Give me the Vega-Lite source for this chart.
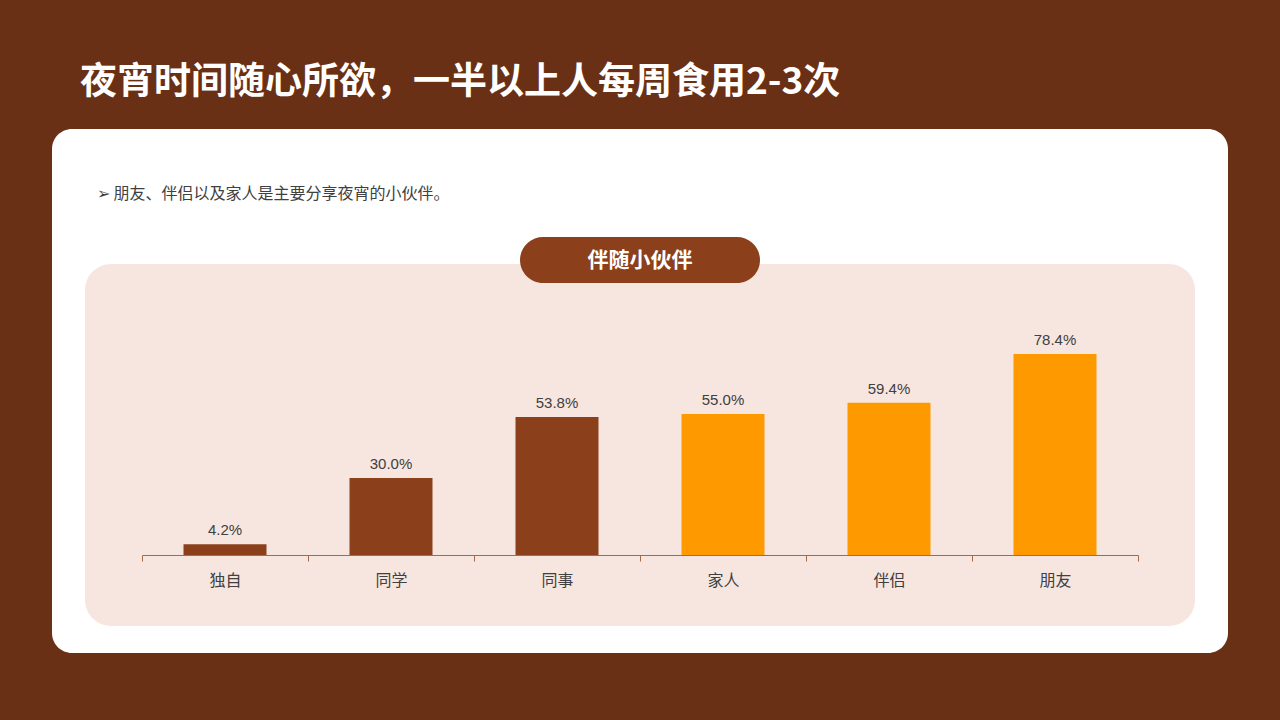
{
  "$schema": "https://vega.github.io/schema/vega-lite/v6.json",
  "description": "伴随小伙伴：与谁一起吃夜宵",
  "width": 1176,
  "height": 524,
  "autosize": {"type": "none"},
  "padding": {"left": 52, "top": 129, "right": 52, "bottom": 67},
  "background": "#6A3015",
  "title": {
    "text": "夜宵时间随心所欲，一半以上人每周食用2-3次",
    "subtitle": "\u200b\u3000\u200a➢ 朋友、伴侣以及家人是主要分享夜宵的小伙伴。",
    "anchor": "start",
    "frame": "group",
    "dx": 28,
    "offset": -74,
    "font": "Noto Sans CJK SC",
    "fontSize": 37,
    "fontWeight": "bold",
    "color": "#FFFFFF",
    "subtitleFont": "Noto Sans CJK SC",
    "subtitleFontSize": 16,
    "subtitleColor": "#404040",
    "subtitlePadding": 84
  },
  "config": {
    "view": {"fill": "#FFFFFF", "stroke": null, "cornerRadius": 20},
    "font": "Noto Sans CJK SC"
  },
  "data": {
    "values": [
      {"对象": "独自", "占比": 0.042},
      {"对象": "同学", "占比": 0.300},
      {"对象": "同事", "占比": 0.538},
      {"对象": "家人", "占比": 0.550},
      {"对象": "伴侣", "占比": 0.594},
      {"对象": "朋友", "占比": 0.784}
    ]
  },
  "layer": [
    {
      "data": {"values": [{"面板": "伴随小伙伴"}]},
      "mark": {"type": "rect", "fill": "#F7E6DF", "cornerRadius": 26},
      "encoding": {
        "x": {"value": 33},
        "x2": {"value": 1143},
        "y": {"value": 135},
        "y2": {"value": 497}
      }
    },
    {
      "data": {"values": [{"面板": "伴随小伙伴"}]},
      "mark": {"type": "rect", "fill": "#8B401B", "cornerRadius": 23},
      "encoding": {
        "x": {"value": 468},
        "x2": {"value": 708},
        "y": {"value": 108},
        "y2": {"value": 154}
      }
    },
    {
      "data": {"values": [{"面板": "伴随小伙伴"}]},
      "mark": {"type": "text", "color": "#FFFFFF", "fontSize": 21, "fontWeight": "bold", "align": "center", "baseline": "middle"},
      "encoding": {
        "text": {"field": "面板"},
        "x": {"value": 588},
        "y": {"value": 132}
      }
    },
    {
      "mark": {"type": "bar", "width": {"band": 0.5}},
      "encoding": {
        "x": {
          "field": "对象",
          "type": "nominal",
          "sort": null,
          "scale": {"range": [90, 1086], "paddingInner": 0, "paddingOuter": 0},
          "axis": {
            "title": null,
            "offset": -98,
            "zindex": 1,
            "domainColor": "#A8684A",
            "domainWidth": 1,
            "tickColor": "#A8684A",
            "tickBand": "extent",
            "tickSize": 6,
            "labelAngle": 0,
            "labelFont": "Noto Sans CJK SC",
            "labelFontSize": 16,
            "labelColor": "#404040",
            "labelPadding": 11
          }
        },
        "y": {
          "field": "占比",
          "type": "quantitative",
          "scale": {"domain": [0, 1], "range": [426, 169.6]},
          "axis": null
        },
        "color": {
          "condition": {"test": "datum['占比'] >= 0.55", "value": "#FF9900"},
          "value": "#8B401B"
        }
      }
    },
    {
      "mark": {"type": "text", "dy": -14, "fontSize": 15, "color": "#404040", "font": "Liberation Sans"},
      "encoding": {
        "x": {"field": "对象", "type": "nominal", "sort": null},
        "y": {"field": "占比", "type": "quantitative"},
        "text": {"field": "占比", "type": "quantitative", "format": ".1%"}
      }
    }
  ]
}
